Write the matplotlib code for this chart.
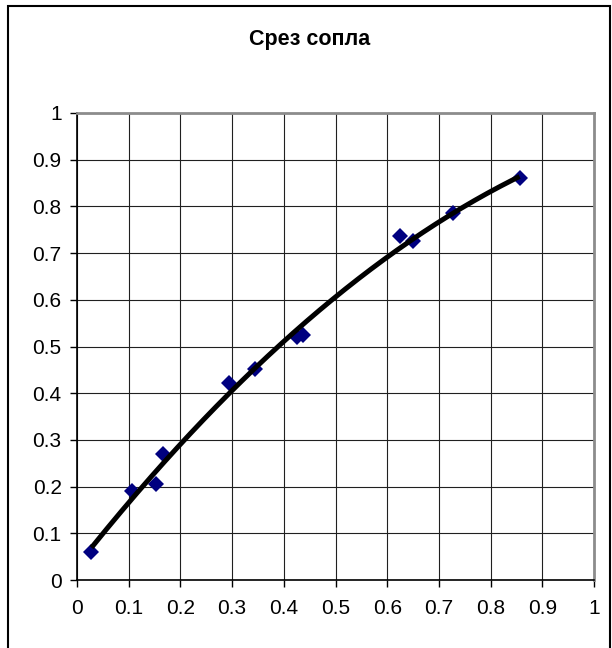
import matplotlib
matplotlib.use("Agg")
import matplotlib.pyplot as plt
import numpy as np
from matplotlib.patches import Rectangle

plt.rcParams["font.family"] = ["Liberation Sans", "DejaVu Sans"]

TITLE = "Срез сопла"

x_vals = [0.028, 0.107, 0.152, 0.166, 0.294, 0.345, 0.425, 0.437, 0.625, 0.649, 0.728, 0.856]
y_vals = [0.060, 0.191, 0.205, 0.270, 0.421, 0.452, 0.520, 0.525, 0.736, 0.726, 0.786, 0.860]

ticks = [0, 0.1, 0.2, 0.3, 0.4, 0.5, 0.6, 0.7, 0.8, 0.9, 1]
tick_labels = ["0", "0.1", "0.2", "0.3", "0.4", "0.5", "0.6", "0.7", "0.8", "0.9", "1"]

W, H = 612, 648
fig = plt.figure(figsize=(W / 100, H / 100), dpi=100)

# outer chart border (bottom runs off the image)
fig.patches.append(Rectangle((8 / W, -0.05), 602 / W, (H - 6) / H + 0.05,
                             transform=fig.transFigure, fill=False,
                             edgecolor="black", linewidth=1.5))

ax = fig.add_axes([77 / W, 68 / H, 517 / W, 467 / H])

# second-order trendline fitted to the points, drawn over the data range
coef = np.polyfit(x_vals, y_vals, 2)
xs = np.linspace(min(x_vals), max(x_vals), 200)
ax.plot(xs, np.polyval(coef, xs), color="black", linewidth=3.6, zorder=4,
        solid_capstyle="butt")
ax.plot(x_vals, y_vals, linestyle="none", marker="D", markersize=8,
        color="#000080", markeredgewidth=0, zorder=3)

ax.set_xlim(0, 1)
ax.set_ylim(0, 1)
ax.set_xticks(ticks)
ax.set_xticklabels(tick_labels)
ax.set_yticks(ticks)
ax.set_yticklabels(tick_labels)
ax.grid(True, color="#202020", linewidth=0.8)
ax.set_axisbelow(True)

ax.tick_params(direction="out", length=5, width=1, color="black",
               labelsize=15)
ax.tick_params(axis="x", pad=9)
ax.tick_params(axis="y", pad=6)

for side in ("left", "bottom"):
    ax.spines[side].set_color("black")
    ax.spines[side].set_linewidth(1.2)
for side in ("top", "right"):
    ax.spines[side].set_color("#8c8c8c")
    ax.spines[side].set_linewidth(2)

fig.text(310 / W, 1 - 39 / H, TITLE, ha="center", va="center",
         fontsize=15.5, fontweight="bold")

fig.savefig("out.png", dpi=100)
